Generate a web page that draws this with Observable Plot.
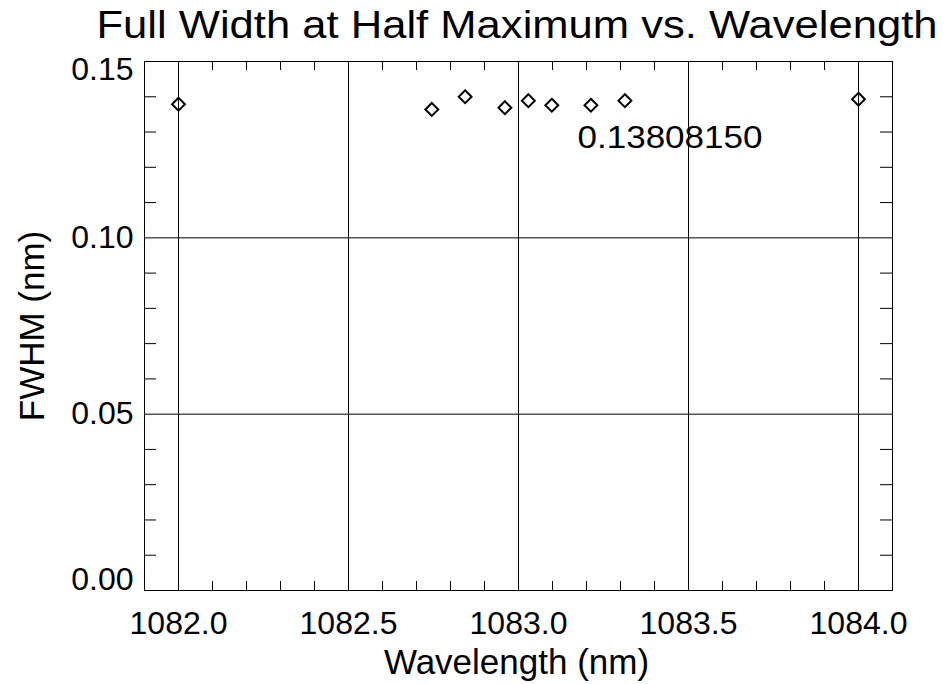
<!DOCTYPE html>
<html>
<head>
<meta charset="utf-8">
<script src="https://cdn.jsdelivr.net/npm/d3@7"></script>
<script src="https://cdn.jsdelivr.net/npm/@observablehq/plot@0.6"></script>
<style>
  html, body { margin: 0; padding: 0; background: #fff; }
  #chart { width: 948px; height: 684px; }
</style>
</head>
<body>
<div id="chart"></div>
<script>
// ---- data ----
const titleText = "Full Width at Half Maximum vs. Wavelength";
const xLabel = "Wavelength (nm)";
const yLabel = "FWHM (nm)";
const wavelengths = [1082.0, 1082.745, 1082.843, 1082.960, 1083.029, 1083.098, 1083.213, 1083.313, 1084.0];
const fwhm        = [0.1379, 0.1364, 0.1400, 0.1369, 0.1389, 0.1376, 0.1376, 0.1389, 0.1393];
const xMajorTicks = [1082.0, 1082.5, 1083.0, 1083.5, 1084.0];
const xMinorTicks = [1082.1, 1082.2, 1082.3, 1082.4, 1082.6, 1082.7, 1082.8, 1082.9,
                     1083.1, 1083.2, 1083.3, 1083.4, 1083.6, 1083.7, 1083.8, 1083.9];
const yMajorTicks = [0.00, 0.05, 0.10, 0.15];
const yMinorTicks = [0.01, 0.02, 0.03, 0.04, 0.06, 0.07, 0.08, 0.09, 0.11, 0.12, 0.13, 0.14];
const annotationText = "0.13808150";
const annotationX = 1083.1735;
const annotationY = 0.1254;

// ---- build ----
const points = wavelengths.map((w, i) => ({w, f: fwhm[i]}));

const W = 948, H = 684;
const mTop = 61, mRight = 56, mBottom = 94, mLeft = 144;
const frameW = W - mLeft - mRight, frameH = H - mTop - mBottom;
const font = "'Liberation Sans', Arial, Helvetica, sans-serif";

const yInner = yMajorTicks.filter(d => d > 0 && d < 0.15);
const yBottom = yMajorTicks.filter(d => d === 0);
const yTop = yMajorTicks.filter(d => d >= 0.15);

const chart = Plot.plot({
  width: W,
  height: H,
  marginTop: mTop,
  marginRight: mRight,
  marginBottom: mBottom,
  marginLeft: mLeft,
  style: {background: "white", color: "black", fontFamily: font, fontSize: "32px"},
  x: {domain: [1081.9, 1084.1]},
  y: {domain: [0, 0.15]},
  marks: [
    Plot.gridX(xMajorTicks, {stroke: "black", strokeOpacity: 1, strokeWidth: 1}),
    Plot.gridY(yMajorTicks, {stroke: "black", strokeOpacity: 1, strokeWidth: 1}),
    Plot.ruleX(xMinorTicks, {x: d => d, stroke: "black", insetTop: frameH - 9}),
    Plot.ruleX(xMinorTicks, {x: d => d, stroke: "black", insetBottom: frameH - 9}),
    Plot.ruleY(yMinorTicks, {y: d => d, stroke: "black", insetRight: frameW - 12}),
    Plot.ruleY(yMinorTicks, {y: d => d, stroke: "black", insetLeft: frameW - 12}),
    Plot.frame({stroke: "black", strokeWidth: 1}),
    Plot.axisX(xMajorTicks, {tickSize: 0, tickPadding: 21, tickFormat: d => d.toFixed(1), fontSize: 32, label: null}),
    Plot.axisY(yInner, {tickSize: 0, tickPadding: 11, tickFormat: d => d.toFixed(2), fontSize: 32, label: null}),
    Plot.axisY(yBottom, {tickSize: 0, tickPadding: 11, tickFormat: d => d.toFixed(2), fontSize: 32, label: null, dy: -11}),
    Plot.axisY(yTop, {tickSize: 0, tickPadding: 11, tickFormat: d => d.toFixed(2), fontSize: 32, label: null, dy: 8}),
    Plot.dot(points, {x: "w", y: "f", symbol: "diamond2", r: 5.8, stroke: "black", strokeWidth: 2, fill: "none"}),
    Plot.text([annotationText], {x: () => annotationX, y: () => annotationY, text: d => d, textAnchor: "start", lineAnchor: "bottom", fontSize: 31, fill: "black"}),
    Plot.text([titleText], {text: d => d, frameAnchor: "top", textAnchor: "middle", lineAnchor: "bottom", dy: -24, dx: -1.5, fontSize: 38, fill: "black"}),
    Plot.text([xLabel], {text: d => d, frameAnchor: "bottom", textAnchor: "middle", lineAnchor: "bottom", dy: 83, dx: -2, fontSize: 35, fill: "black"}),
    Plot.text([yLabel], {text: d => d, frameAnchor: "left", textAnchor: "middle", rotate: -90, lineAnchor: "bottom", dx: -101, fontSize: 35, fill: "black"})
  ]
});

document.getElementById("chart").appendChild(chart);

// stretch wide glyph texts to match the reference extents
d3.select(chart).selectAll("text").each(function() {
  const t = this.textContent;
  if (t === titleText) {
    this.setAttribute("textLength", 841);
    this.setAttribute("lengthAdjust", "spacingAndGlyphs");
  } else if (t === annotationText) {
    this.setAttribute("textLength", 185);
    this.setAttribute("lengthAdjust", "spacingAndGlyphs");
  }
});
</script>
</body>
</html>
